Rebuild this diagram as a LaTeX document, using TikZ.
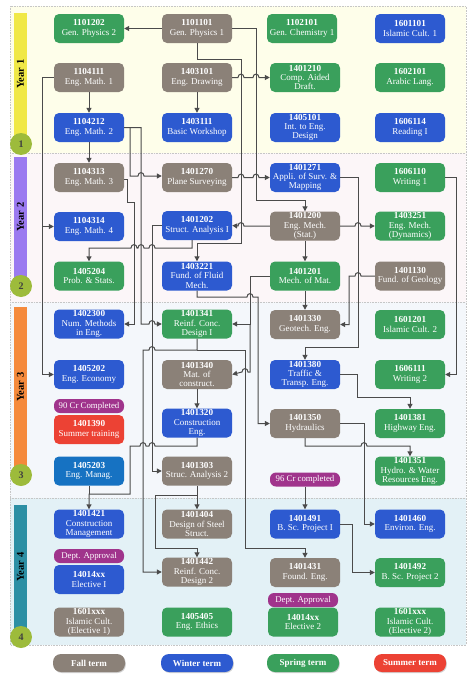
\documentclass[tikz,border=0pt]{standalone}
\usepackage{fontspec}
\setmainfont{Liberation Serif}
\usetikzlibrary{arrows.meta,shadows}
\definecolor{fallc}{RGB}{139,129,120}
\definecolor{winc}{RGB}{45,90,208}
\definecolor{sprc}{RGB}{58,160,92}
\definecolor{sumc}{RGB}{236,66,52}
\definecolor{mngc}{RGB}{22,114,194}
\definecolor{tagc}{RGB}{160,52,140}
\definecolor{linec}{RGB}{75,75,75}
\definecolor{bgA}{RGB}{254,254,234}
\definecolor{bgB}{RGB}{252,246,248}
\definecolor{bgC}{RGB}{244,247,251}
\definecolor{bgD}{RGB}{227,241,246}
\definecolor{barA}{RGB}{240,232,70}
\definecolor{barB}{RGB}{155,122,240}
\definecolor{barC}{RGB}{245,138,60}
\definecolor{barD}{RGB}{44,143,164}
\definecolor{circc}{RGB}{157,187,59}
\newcommand{\crs}[2]{{\bfseries\fontsize{9.2}{9.5}\selectfont #1}\\#2}
\tikzset{
  box/.style={rounded corners=5pt, minimum width=70pt, minimum height=29pt, inner sep=0.3pt,
    align=center, text=white, font=\fontsize{9}{9.4}\selectfont},
  fall/.style={box, fill=fallc},
  win/.style={box, fill=winc},
  spr/.style={box, fill=sprc},
  sumr/.style={box, fill=sumc},
  mng/.style={box, fill=mngc},
  tag/.style={rounded corners=6pt, fill=tagc, text=white, minimum width=70pt, minimum height=14pt,
    inner sep=0.5pt, font=\fontsize{8.8}{9}\selectfont},
  leg/.style={rounded corners=8pt, minimum width=72pt, minimum height=18pt, inner sep=0.5pt, text=white,
    font=\bfseries\fontsize{9}{9}\selectfont, drop shadow={shadow xshift=0.8pt, shadow yshift=-1pt, opacity=0.35}},
  band/.style={draw=gray!45, densely dotted, line width=0.6pt},
  yearlbl/.style={rotate=90, font=\bfseries\fontsize{10.5}{10.5}\selectfont},
  yearnum/.style={circle, fill=circc, minimum size=22pt, inner sep=0pt, text=black!75,
    font=\bfseries\fontsize{10}{10}\selectfont},
  arr/.style={draw=linec, line width=1pt, -{Triangle[length=5pt,width=5pt]}},
  ln/.style={draw=linec, line width=1pt}
}
\begin{document}
\begin{tikzpicture}[x=1pt,y=-1pt]
\useasboundingbox (0,0) rectangle (474,680);
\fill[white] (0,0) rectangle (474,680);
% bands
\fill[bgA] (10,6) rectangle (466,153);
\fill[bgB] (10,153) rectangle (466,302);
\fill[bgC] (10,302) rectangle (466,498);
\fill[bgD] (10,498) rectangle (466,645);
\draw[band] (10,6) rectangle (466,645);
\draw[band] (10,153) -- (466,153);
\draw[band] (10,302) -- (466,302);
\draw[band] (10,498) -- (466,498);
% year bars
\fill[barA] (14,13) rectangle (27,143);
\fill[barB] (14,157) rectangle (27,286);
\fill[barC] (14,307) rectangle (27,475);
\fill[barD] (14,505) rectangle (27,637);
\node[yearlbl] (y1) at (20.5,74) {Year 1};
\node[yearlbl] (y2) at (20.5,217) {Year 2};
\node[yearlbl] (y3) at (20.5,387) {Year 3};
\node[yearlbl] (y4) at (20.5,567) {Year 4};
\node[yearnum] (c1) at (21,144) {1};
\node[yearnum] (c2) at (21,286) {2};
\node[yearnum] (c3) at (21,475) {3};
\node[yearnum] (c4) at (21,637) {4};

% ---------- Year 1
\node[spr]  (a1101202) at (89,28.5)  {\crs{1101202}{Gen. Physics 2}};
\node[fall] (b1101101) at (197,28.5) {\crs{1101101}{Gen. Physics 1}};
\node[spr]  (c1102101) at (302,28.5) {\crs{1102101}{Gen. Chemistry 1}};
\node[win]  (d1601101) at (410,28.5) {\crs{1601101}{Islamic Cult. 1}};
\node[fall] (a1104111) at (89,77.5)  {\crs{1104111}{Eng. Math. 1}};
\node[fall] (b1403101) at (197,77.5) {\crs{1403101}{Eng. Drawing}};
\node[spr]  (c1401210) at (305,77.5) {\crs{1401210}{Comp. Aided\\Draft.}};
\node[spr]  (d1602101) at (410,77.5) {\crs{1602101}{Arabic Lang.}};
\node[win]  (a1104212) at (89,127.5) {\crs{1104212}{Eng. Math. 2}};
\node[win]  (b1403111) at (197,127.5){\crs{1403111}{Basic Workshop}};
\node[win]  (c1405101) at (305,127.5){\crs{1405101}{Int. to Eng.\\Design}};
\node[win]  (d1606114) at (410,127.5){\crs{1606114}{Reading I}};
% ---------- Year 2
\node[fall] (a1104313) at (89,177.5) {\crs{1104313}{Eng. Math. 3}};
\node[fall] (b1401270) at (197,177.5){\crs{1401270}{Plane Surveying}};
\node[win]  (c1401271) at (305,177.5){\crs{1401271}{Appli. of Surv. \&\\Mapping}};
\node[spr]  (d1606110) at (410,177.5){\crs{1606110}{Writing 1}};
\node[win]  (a1104314) at (89,226.5) {\crs{1104314}{Eng. Math. 4}};
\node[win]  (b1401202) at (197,225.5){\crs{1401202}{Struct. Analysis I}};
\node[fall] (c1401200) at (305,226)  {\crs{1401200}{Eng. Mech.\\(Stat.)}};
\node[spr]  (d1403251) at (410,226)  {\crs{1403251}{Eng. Mech.\\(Dynamics)}};
\node[spr]  (a1405204) at (89,276)   {\crs{1405204}{Prob. \& Stats.}};
\node[win]  (b1403221) at (197,276)  {\crs{1403221}{Fund. of Fluid\\Mech.}};
\node[spr]  (c1401201) at (305,276)  {\crs{1401201}{Mech. of Mat.}};
\node[fall] (d1401130) at (410,276)  {\crs{1401130}{Fund. of Geology}};
% ---------- Year 3
\node[win]  (a1402300) at (89,324)   {\crs{1402300}{Num. Methods\\in Eng.}};
\node[spr]  (b1401341) at (197,324)  {\crs{1401341}{Reinf. Conc.\\Design I}};
\node[fall] (c1401330) at (305,324.5){\crs{1401330}{Geotech. Eng.}};
\node[spr]  (d1601201) at (410,324.5){\crs{1601201}{Islamic Cult. 2}};
\node[win]  (a1405202) at (89,374.5) {\crs{1405202}{Eng. Economy}};
\node[fall] (b1401340) at (197,374.5){\crs{1401340}{Mat. of\\construct.}};
\node[win]  (c1401380) at (305,374.5){\crs{1401380}{Traffic \&\\Transp. Eng.}};
\node[spr]  (d1606111) at (410,374.5){\crs{1606111}{Writing 2}};
\node[tag]  (cr90)     at (89,406)   {90 Cr Completed};
\node[sumr] (a1401390) at (89,429.5) {\crs{1401390}{Summer training}};
\node[win]  (b1401320) at (197,423)  {\crs{1401320}{Construction\\Eng.}};
\node[fall] (c1401350) at (305,423.5){\crs{1401350}{Hydraulics}};
\node[spr]  (d1401381) at (410,423.5){\crs{1401381}{Highway Eng.}};
\node[mng]  (a1405203) at (89,471)   {\crs{1405203}{Eng. Manag.}};
\node[fall] (b1401303) at (197,471)  {\crs{1401303}{Struc. Analysis 2}};
\node[tag]  (cr96)     at (305,479.5){96 Cr completed};
\node[spr]  (d1401351) at (410,471)  {\crs{1401351}{Hydro. \& Water\\Resources Eng.}};
% ---------- Year 4
\node[win]  (a1401421) at (89,524)   {\crs{1401421}{Construction\\Management}};
\node[fall] (b1401404) at (197,524)  {\crs{1401404}{Design of Steel\\Struct.}};
\node[win]  (c1401491) at (305,524)  {\crs{1401491}{B. Sc. Project I}};
\node[win]  (d1401460) at (410,524)  {\crs{1401460}{Environ. Eng.}};
\node[tag]  (dpa)      at (89,556)   {Dept. Approval};
\node[win]  (a14014xx) at (89,579.5) {\crs{14014xx}{Elective I}};
\node[fall] (b1401442) at (197,572)  {\crs{1401442}{Reinf. Conc.\\Design 2}};
\node[fall] (c1401431) at (305,572.5){\crs{1401431}{Found. Eng.}};
\node[spr]  (d1401492) at (410,572.5){\crs{1401492}{B. Sc. Project 2}};
\node[tag]  (dpb)      at (303,600)  {Dept. Approval};
\node[fall] (a1601xxx) at (89,622)   {\crs{1601xxx}{Islamic Cult.\\(Elective 1)}};
\node[spr]  (b1405405) at (197,622)  {\crs{1405405}{Eng. Ethics}};
\node[spr]  (c14014xx) at (303,622)  {\crs{14014xx}{Elective 2}};
\node[spr]  (d1601xxx) at (410,622)  {\crs{1601xxx}{Islamic Cult.\\(Elective 2)}};
% ---------- legend
\node[leg, fill=fallc] (lf) at (89,663)  {Fall term};
\node[leg, fill=winc]  (lw) at (197,663) {Winter term};
\node[leg, fill=sprc]  (ls) at (303,663) {Spring term};
\node[leg, fill=sumc]  (lu) at (410,663) {Summer term};

% ---------- connectors
\draw[arr] (b1101101.west) -- (a1101202.east);
\draw[arr] (b1101101.east) -- (256,28.5) -- (256,200) -- (305,200) -- (c1401200.north);
\draw[arr] (b1101101.south) -- (197,59) -- (241,59) -- (241,243) -- (197,243) -- (b1403221.north);
\draw[arr] (b1403101.east) -- (238,77.5) .. controls (238,73) and (244,73) .. (244,77.5)
   -- (253,77.5) .. controls (253,73) and (259,73) .. (259,77.5) -- (c1401210.west);
\draw[arr] (b1403101.south) -- (b1403111.north);
\draw[arr] (a1104111.south) -- (a1104212.north);
\draw[arr] (a1104111.west) -- (42,77.5) -- (42,374.5) -- (a1405202.west);
\draw[arr] (42,226.5) -- (a1104314.west);
\draw[arr] (a1104212.south) -- (a1104313.north);
\draw[arr] (a1104212.east) -- (141,127.5) -- (141,324) -- (149,324) .. controls (149,319.5) and (155,319.5) .. (155,324) -- (b1401341.west);
\draw[arr] (130,127.5) -- (130,176) -- (138,176) .. controls (138,171.5) and (144,171.5) .. (144,176) -- ([yshift=1.5pt]b1401270.west);
\draw[arr] ([yshift=-1.5pt]a1104313.east) -- (127,179) -- (127,202) -- (134,202) -- (134,324) -- (a1402300.east);
\draw[arr] (b1401270.east) -- (238,177.5) .. controls (238,173) and (244,173) .. (244,177.5)
   -- (253,177.5) .. controls (253,173) and (259,173) .. (259,177.5) -- (c1401271.west);
\draw[arr] (c1401271.east) -- (358,177.5) -- (358,347) -- (305,347) -- (c1401380.north);
\draw[arr] (d1606110.east) -- (456,177.5) -- (456,374.5) -- (d1606111.east);
\draw[arr] (c1401200.east) -- (355,226) .. controls (355,221.5) and (361,221.5) .. (361,226) -- (d1403251.west);
\draw[arr] (c1401200.south) -- (c1401201.north);
\draw[arr] (c1401200.west) -- (244,226) .. controls (244,221.5) and (238,221.5) .. (238,226) -- (b1401202.east);
\draw[arr] (b1401202.west) -- (152,225.5) -- (152,471) -- (b1401303.west);
\draw[arr] ([xshift=-5pt]b1401202.south) -- (192,248) -- (155,248) .. controls (155,243.5) and (149,243.5) .. (149,248)
   -- (144,248) .. controls (144,243.5) and (138,243.5) .. (138,248)
   -- (137,248) .. controls (137,243.5) and (131,243.5) .. (131,248) -- (89,248) -- (a1405204.north);
\draw[arr] (c1401201.south) -- (c1401330.north);
\draw[arr] (d1401130.west) -- (361,276) .. controls (361,271.5) and (355,271.5) .. (355,276) -- (349,276) -- (349,324.5) -- (c1401330.east);
\draw[arr] (c1401201.west) -- (250,276) -- (250,324) -- (b1401341.east);
\draw[arr] (250,324) -- (250,372) -- (248,372) .. controls (248,367.5) and (242,367.5) .. (242,372) -- (b1401340.east);
\draw[arr] (b1403221.south) -- (197,297) -- (247,297) .. controls (247,292.5) and (253,292.5) .. (253,297) -- (258,297) -- (258,423.5) -- (c1401350.west);
\draw[arr] (b1401341.south) -- (197,350) -- (155,350) .. controls (155,345.5) and (149,345.5) .. (149,350) -- (143,350) -- (143,572) -- (b1401442.west);
\draw[arr] (197,350) -- (245,350) -- (245,548) -- (305,548) -- (c1401431.north);
\draw[arr] (b1401340.south) -- (b1401320.north);
\draw[arr] (b1401320.south) -- (197,446) -- (155,446) .. controls (155,441.5) and (149,441.5) .. (149,446)
   -- (146,446) .. controls (146,441.5) and (140,441.5) .. (140,446) -- (130,446) -- (130,494) -- (89,494) -- (a1401421.north);
\draw[ln] (a1405203.south) -- (89,494);
\draw[arr] (b1401303.south) -- (b1401404.north);
\draw[arr] (197,495) -- (155,495) -- (155,548) -- (197,548) -- (b1401442.north);
\draw[arr] (c1401380.east) -- (357,374.5) -- (357,397) -- (410,397) -- (d1401381.north);
\draw[arr] (c1401350.east) -- (364,423.5) -- (364,524) -- (d1401460.west);
\draw[arr] (c1401350.south) -- (305,446) -- (361,446) .. controls (361,441.5) and (367,441.5) .. (367,446) -- (410,446) -- (d1401351.north);
\draw[arr] (cr96.south) -- (c1401491.north);
\draw[arr] (c1401491.east) -- (352,524) -- (352,572.5) -- (d1401492.west);
\end{tikzpicture}
\end{document}
